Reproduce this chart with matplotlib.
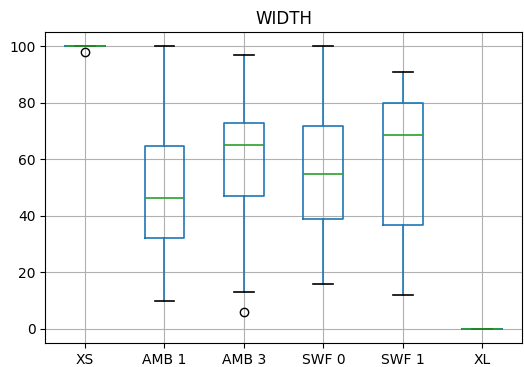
import numpy as np
import matplotlib
matplotlib.use("Agg")
import matplotlib.pyplot as plt

labels = ["XS", "AMB 1", "AMB 3", "SWF 0", "SWF 1", "XL"]
whislo = [100, 10, 13, 16, 12, 0]
q1 = [100, 32, 47, 39, 36.8, 0]
med = [100, 46.5, 65, 55, 68.5, 0]
q3 = [100, 64.8, 72.8, 72, 79.8, 0]
whishi = [100, 100, 97, 100, 91, 0]
fliers = [[98], [], [6], [], [], []]

stats = []
for i in range(len(labels)):
    stats.append({"label": labels[i], "whislo": whislo[i], "q1": q1[i], "med": med[i],
                  "q3": q3[i], "whishi": whishi[i], "fliers": fliers[i]})

fig = plt.figure(figsize=(5.24, 3.67), dpi=100)
ax = fig.add_axes([0.0865, 0.0654, 0.9095, 0.8466])
lw = 1.2
ax.bxp(stats,
       boxprops=dict(color="C0", linewidth=lw),
       whiskerprops=dict(color="C0", linewidth=lw),
       medianprops=dict(color="C2", linewidth=lw),
       capprops=dict(color="k", linewidth=lw))
ax.grid(True)
ax.set_axisbelow(True)
ax.set_ylim(-5, 105)
ax.set_yticks([0, 20, 40, 60, 80, 100])
ax.set_title("WIDTH")

fig.savefig("out.png", dpi=100)
